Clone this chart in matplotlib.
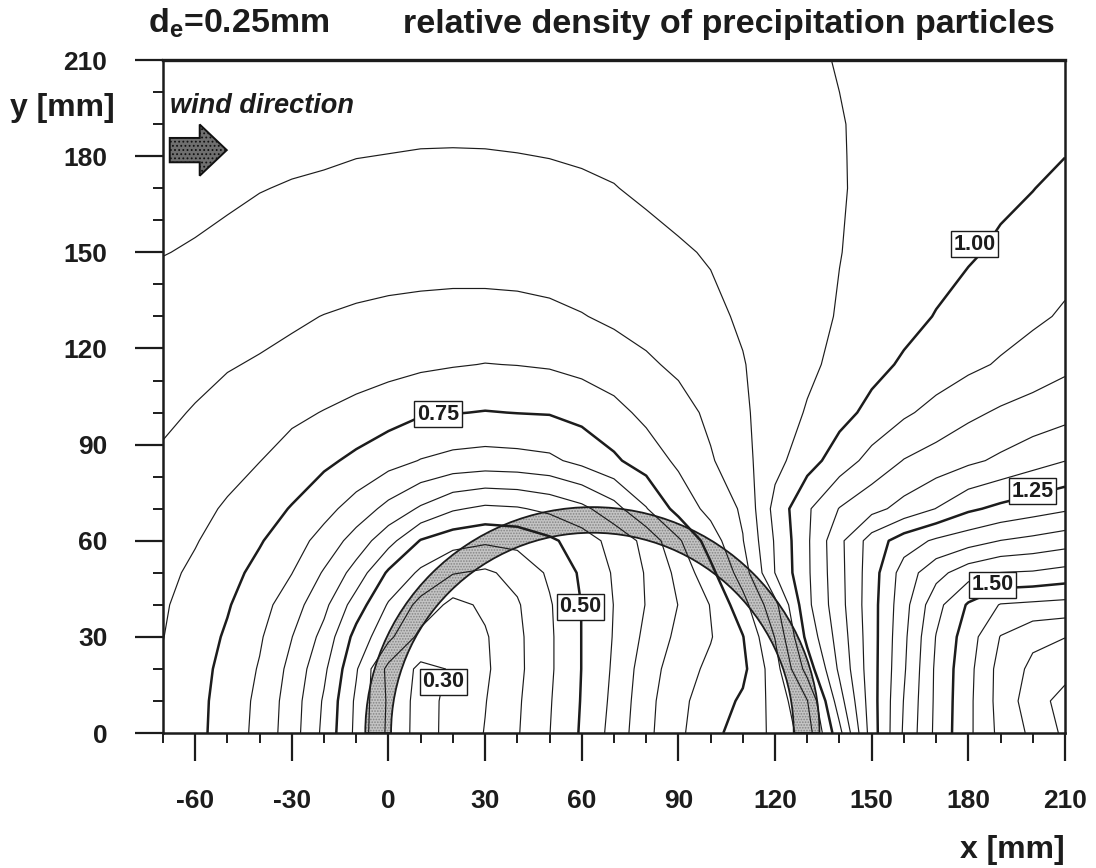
import numpy as np
import matplotlib
matplotlib.use("Agg")
import matplotlib.pyplot as plt
from matplotlib.patches import Wedge, FancyArrow

plt.rcParams["font.family"] = ["Liberation Sans", "DejaVu Sans"]
plt.rcParams["font.weight"] = "bold"
plt.rcParams["axes.unicode_minus"] = False
plt.rcParams["mathtext.fontset"] = "custom"
plt.rcParams["mathtext.rm"] = "Liberation Sans:bold"
plt.rcParams["mathtext.bf"] = "Liberation Sans:bold"
plt.rcParams["mathtext.it"] = "Liberation Sans:bold:italic"
plt.rcParams["hatch.linewidth"] = 0.8

# measurement grid (mm)
x_mm = [-70, -60, -50, -40, -30, -20, -10, 0, 10, 20, 30, 40, 50, 60, 70,
        80, 90, 100, 110, 120, 130, 140, 150, 160, 170, 180, 190, 200, 210]
y_mm = [0, 10, 20, 30, 40, 50, 60, 70, 85, 100, 115, 130, 150, 170, 180, 190, 210]

# relative density of precipitation particles, one list per grid row (y)
d_y0 = [0.790, 0.763, 0.729, 0.685, 0.623, 0.538, 0.438, 0.339, 0.280, 0.316, 0.352, 0.396, 0.449, 0.506, 0.568,
        0.637, 0.690, 0.735, 0.773, 0.810, 0.875, 1.035, 1.225, 1.357, 1.462, 1.539, 1.614, 1.661, 1.710]
d_y10 = [0.791, 0.764, 0.731, 0.688, 0.626, 0.544, 0.441, 0.342, 0.280, 0.315, 0.348, 0.393, 0.446, 0.503, 0.562,
         0.633, 0.688, 0.723, 0.758, 0.817, 0.898, 1.079, 1.228, 1.352, 1.460, 1.538, 1.619, 1.676, 1.720]
d_y20 = [0.795, 0.767, 0.736, 0.696, 0.635, 0.560, 0.455, 0.335, 0.290, 0.303, 0.342, 0.388, 0.442, 0.501, 0.557,
         0.626, 0.677, 0.711, 0.738, 0.828, 0.970, 1.110, 1.229, 1.344, 1.459, 1.535, 1.618, 1.661, 1.680]
d_y30 = [0.801, 0.773, 0.744, 0.706, 0.651, 0.584, 0.482, 0.413, 0.335, 0.315, 0.345, 0.389, 0.442, 0.501, 0.553,
         0.612, 0.662, 0.697, 0.748, 0.852, 1.015, 1.122, 1.229, 1.339, 1.452, 1.527, 1.602, 1.639, 1.649]
d_y40 = [0.805, 0.781, 0.754, 0.719, 0.673, 0.613, 0.526, 0.445, 0.385, 0.335, 0.359, 0.395, 0.445, 0.501, 0.551,
         0.602, 0.651, 0.702, 0.781, 0.886, 1.038, 1.132, 1.230, 1.332, 1.433, 1.506, 1.553, 1.560, 1.566]
d_y50 = [0.812, 0.791, 0.766, 0.736, 0.701, 0.645, 0.580, 0.492, 0.441, 0.403, 0.392, 0.415, 0.458, 0.508, 0.555,
         0.604, 0.663, 0.736, 0.825, 0.951, 1.042, 1.135, 1.227, 1.323, 1.383, 1.428, 1.451, 1.455, 1.467]
d_y60 = [0.820, 0.803, 0.779, 0.754, 0.722, 0.682, 0.629, 0.568, 0.497, 0.470, 0.458, 0.465, 0.490, 0.525, 0.567,
         0.614, 0.692, 0.775, 0.848, 0.955, 1.043, 1.138, 1.222, 1.275, 1.308, 1.329, 1.351, 1.363, 1.377]
d_y70 = [0.829, 0.812, 0.795, 0.771, 0.747, 0.716, 0.679, 0.635, 0.593, 0.556, 0.540, 0.545, 0.562, 0.587, 0.631,
         0.697, 0.769, 0.815, 0.857, 0.966, 1.043, 1.102, 1.134, 1.167, 1.201, 1.241, 1.262, 1.278, 1.293]
d_y85 = [0.844, 0.829, 0.815, 0.801, 0.780, 0.760, 0.739, 0.718, 0.698, 0.685, 0.680, 0.683, 0.690, 0.714, 0.742,
         0.774, 0.809, 0.845, 0.884, 0.934, 0.980, 1.024, 1.067, 1.102, 1.121, 1.140, 1.159, 1.180, 1.199]
d_y100 = [0.858, 0.847, 0.835, 0.822, 0.810, 0.798, 0.785, 0.770, 0.755, 0.752, 0.748, 0.751, 0.753, 0.765, 0.785,
          0.812, 0.830, 0.861, 0.893, 0.923, 0.954, 0.984, 1.013, 1.042, 1.066, 1.089, 1.107, 1.120, 1.133]
d_y115 = [0.871, 0.862, 0.853, 0.846, 0.839, 0.832, 0.824, 0.817, 0.809, 0.803, 0.799, 0.801, 0.805, 0.815, 0.828,
          0.842, 0.860, 0.879, 0.898, 0.919, 0.940, 0.963, 0.986, 1.006, 1.022, 1.039, 1.055, 1.072, 1.089]
d_y130 = [0.885, 0.878, 0.871, 0.864, 0.856, 0.849, 0.843, 0.838, 0.835, 0.833, 0.833, 0.835, 0.840, 0.848, 0.858,
          0.870, 0.881, 0.892, 0.905, 0.921, 0.937, 0.953, 0.969, 0.986, 1.002, 1.017, 1.028, 1.041, 1.056]
d_y150 = [0.901, 0.897, 0.893, 0.888, 0.884, 0.880, 0.877, 0.875, 0.873, 0.872, 0.872, 0.873, 0.875, 0.879, 0.884,
          0.890, 0.896, 0.903, 0.914, 0.925, 0.937, 0.949, 0.961, 0.972, 0.984, 0.995, 1.007, 1.019, 1.032]
d_y170 = [0.915, 0.910, 0.905, 0.901, 0.898, 0.896, 0.894, 0.893, 0.892, 0.892, 0.892, 0.893, 0.894, 0.896, 0.899,
          0.905, 0.912, 0.919, 0.926, 0.933, 0.941, 0.948, 0.956, 0.965, 0.973, 0.982, 0.991, 0.999, 1.011]
d_y180 = [0.920, 0.916, 0.912, 0.908, 0.905, 0.903, 0.9005, 0.8995, 0.8985, 0.8982, 0.8985, 0.8993, 0.9005, 0.9025,
          0.9055, 0.9105, 0.916, 0.9225, 0.929, 0.9355, 0.942, 0.9485, 0.955, 0.9625, 0.9695, 0.977, 0.9845,
          0.9915, 0.9995]
d_y190 = [0.925, 0.922, 0.918, 0.914, 0.911, 0.909, 0.907, 0.906, 0.905, 0.905, 0.905, 0.906, 0.907, 0.909, 0.912,
          0.916, 0.920, 0.926, 0.932, 0.938, 0.943, 0.949, 0.954, 0.960, 0.966, 0.972, 0.978, 0.984, 0.990]
d_y210 = [0.935, 0.932, 0.929, 0.926, 0.923, 0.921, 0.919, 0.918, 0.917, 0.917, 0.917, 0.918, 0.920, 0.922, 0.925,
          0.928, 0.931, 0.935, 0.939, 0.943, 0.947, 0.951, 0.955, 0.960, 0.964, 0.968, 0.972, 0.976, 0.980]

levels = [0.30, 0.35, 0.40, 0.45, 0.50, 0.55, 0.60, 0.65, 0.70, 0.75, 0.80, 0.85, 0.90, 0.95,
          1.00, 1.05, 1.10, 1.15, 1.20, 1.25, 1.30, 1.35, 1.40, 1.45, 1.50, 1.55, 1.60, 1.65, 1.70]
bold_levels = [0.50, 0.75, 1.00, 1.25, 1.50]
labelled_levels = [0.30, 0.50, 0.75, 1.00, 1.25, 1.50]
label_spots = [(17.0, 16.0), (59.5, 39.4), (15.4, 99.5), (182.0, 152.6), (200.0, 75.5), (187.5, 46.2)]

x_ticks = [-60, -30, 0, 30, 60, 90, 120, 150, 180, 210]
y_ticks = [0, 30, 60, 90, 120, 150, 180, 210]

density = np.vstack([d_y0, d_y10, d_y20, d_y30, d_y40, d_y50, d_y60, d_y70, d_y85,
                     d_y100, d_y115, d_y130, d_y150, d_y170, d_y180, d_y190, d_y210])
X, Y = np.meshgrid(x_mm, y_mm)

ink = "#1c1c1c"
fig = plt.figure(figsize=(10.96, 8.68), dpi=100)
ax = fig.add_axes([0.1487, 0.1555, 0.8230, 0.7753])
ax.set_xlim(-70, 210)
ax.set_ylim(0, 210)

# the shaded half ring of the gauge
ring_cx, ring_r_out, ring_w = 63.3, 70.5, 8.0
ax.add_patch(Wedge((ring_cx, 0), ring_r_out, 0, 180, width=ring_w, facecolor="#c4c4c4",
                   edgecolor="#858585", hatch="......", linewidth=0, zorder=1))
ax.add_patch(Wedge((ring_cx, 0), ring_r_out, 0, 180, width=ring_w, fill=False,
                   edgecolor=ink, linewidth=1.3, zorder=4))

widths = [1.8 if any(abs(lv - b) < 1e-6 for b in bold_levels) else 0.85 for lv in levels]
cs = ax.contour(X, Y, density, levels=levels, colors=ink, linewidths=widths, zorder=3)

for lv, (lx, ly) in zip(labelled_levels, label_spots):
    ax.text(lx, ly, f"{lv:.2f}", ha="center", va="center", fontsize=15.5, fontweight="bold",
            color=ink, zorder=6, bbox=dict(boxstyle="square,pad=0.12", facecolor="white",
                                           edgecolor=ink, linewidth=1.0))

# wind direction marker
ax.text(-67.9, 193.5, "wind direction", fontsize=19.5, fontweight="bold", style="italic",
        va="baseline", ha="left", color=ink)
ax.add_patch(FancyArrow(-67.9, 181.9, 17.7, 0, width=7.6, head_width=16.0, head_length=8.4,
                        length_includes_head=True, facecolor="#6f6f6f", edgecolor="#111111",
                        linewidth=1.4, hatch="....", zorder=5))

ax.set_xticks(x_ticks)
ax.set_xticks(np.arange(-70, 211, 10), minor=True)
ax.set_yticks(y_ticks)
ax.set_yticks(np.arange(0, 211, 10), minor=True)
ax.tick_params(which="major", direction="out", length=20, width=1.6, labelsize=19, colors=ink)
ax.tick_params(which="minor", direction="out", length=7, width=1.4, colors=ink)
ax.tick_params(axis="x", which="major", pad=20)
ax.tick_params(axis="y", which="major", pad=20)
for lab in ax.get_xticklabels() + ax.get_yticklabels():
    lab.set_fontweight("bold")

for side in ["left", "bottom", "right"]:
    ax.spines[side].set_linewidth(1.8)
    ax.spines[side].set_color(ink)
ax.spines["top"].set_linewidth(2.4)
ax.spines["top"].set_color(ink)

fig.text(0.135, 0.962, r"d${}_{\mathbf{e}}$=0.25mm", fontsize=24.5, fontweight="bold",
         ha="left", va="baseline", color=ink)
fig.text(0.3677, 0.962, "relative density of precipitation particles", fontsize=24.5,
         fontweight="bold", ha="left", va="baseline", color=ink)
fig.text(0.009, 0.866, "y [mm]", fontsize=23, fontweight="bold", ha="left", va="baseline",
         color=ink)
fig.text(0.9717, 0.012, "x [mm]", fontsize=23, fontweight="bold", ha="right", va="baseline",
         color=ink)

fig.savefig("out.png", dpi=100)
